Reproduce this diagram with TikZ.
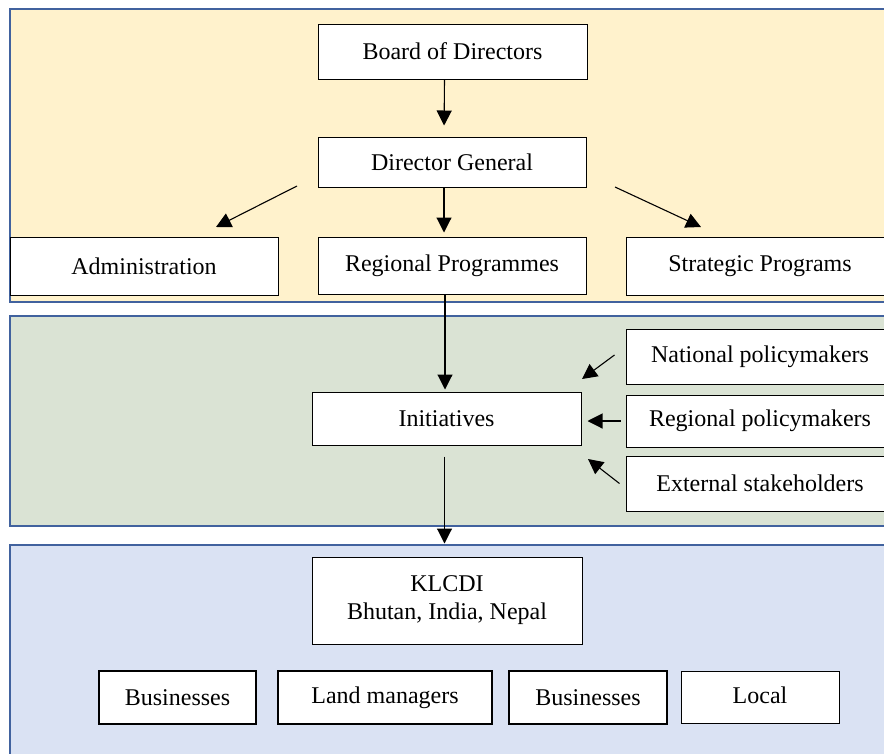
\documentclass[tikz,border=0pt]{standalone}
\usepackage{fontspec}
\setmainfont{Liberation Serif}
\usetikzlibrary{arrows.meta}
\definecolor{bandline}{RGB}{65,98,158}
\definecolor{bandyellow}{RGB}{255,242,204}
\definecolor{bandgreen}{RGB}{218,227,212}
\definecolor{bandblue}{RGB}{218,226,243}

\begin{document}
\begin{tikzpicture}[x=1pt,y=-1pt,
    band/.style={draw=bandline,line width=2pt},
    box/.style={draw,fill=white,line width=1pt,inner sep=0pt,align=center,
      font=\fontsize{24}{28}\selectfont},
    boldbox/.style={box,line width=2pt},
    arr/.style={-{Triangle[length=15pt,width=15pt]},line width=1.1pt}]
  \clip (0,0) rectangle (884,753);
  \fill[white] (0,0) rectangle (884,753);
  % the three bands
  \filldraw[band,fill=bandyellow] (10,9) rectangle (900,302);
  \filldraw[band,fill=bandgreen] (10,316) rectangle (900,526);
  \filldraw[band,fill=bandblue] (10,545) rectangle (900,780);

  \node[box,minimum width=269pt,minimum height=55pt] (board) at (452.5,51.5) {Board of Directors};
  \node[box,minimum width=268pt,minimum height=50pt] (dg) at (452,162) {Director General};
  \node[box,minimum width=268pt,minimum height=58pt] (admin) at (144,266) {Administration};
  \node[box,minimum width=268pt,minimum height=57pt] (regprog) at (452,265.5) {Regional Programmes};
  \node[box,minimum width=268pt,minimum height=58pt] (strat) at (760,266) {Strategic Programs};

  \node[box,minimum width=269pt,minimum height=53pt] (init) at (446.5,418.5) {Initiatives};
  \node[box,minimum width=268pt,minimum height=55pt] (natpol) at (760,356.5) {National policymakers};
  \node[box,minimum width=268pt,minimum height=52pt] (regpol) at (760,421) {Regional policymakers};
  \node[box,minimum width=268pt,minimum height=55pt] (ext) at (760,483.5) {External stakeholders};

  \node[box,minimum width=270pt,minimum height=87pt] (klcdi) at (447,600.5) {KLCDI\\Bhutan, India, Nepal};
  \node[boldbox,minimum width=157pt,minimum height=53pt] (bus) at (177.5,697.5) {Businesses};
  \node[boldbox,minimum width=214pt,minimum height=53pt] (land) at (385,697.5) {Land managers};
  \node[boldbox,minimum width=158pt,minimum height=53pt] (busb) at (588,697.5) {Businesses};
  \node[box,minimum width=158pt,minimum height=52pt] (local) at (760,697) {\raisebox{3pt}{Local}};

  \coordinate (adminfrom) at (297,186);
  \coordinate (adminto) at (216,227);
  \coordinate (stratfrom) at (615,187);
  \coordinate (stratto) at (701,227);
  \coordinate (natto) at (582,379);
  \coordinate (extto) at (588,459);

  \draw[arr,shorten >=11pt] ([xshift=-8pt]board.south) -- ([xshift=-8pt]dg.north);
  \draw[arr,shorten >=4pt] ([xshift=-8pt]dg.south) -- ([xshift=-8pt]regprog.north);
  \draw[arr] (adminfrom) -- (adminto);
  \draw[arr] (stratfrom) -- (stratto);
  \draw[arr,shorten >=2pt] ([xshift=-7pt]regprog.south) -- ([xshift=-7pt]regprog.south |- init.north);
  \draw[arr,shorten <=11pt,shorten >=13pt] ([xshift=-2pt]init.south) -- ([xshift=-2pt]init.south |- klcdi.north);
  \draw[arr] ([xshift=-11pt,yshift=1.5pt]natpol.west) -- (natto);
  \draw[arr,shorten <=5pt,shorten >=6pt] (regpol.west) -- (regpol.west -| init.east);
  \draw[arr] ([xshift=-6pt]ext.west) -- (extto);
\end{tikzpicture}
\end{document}
